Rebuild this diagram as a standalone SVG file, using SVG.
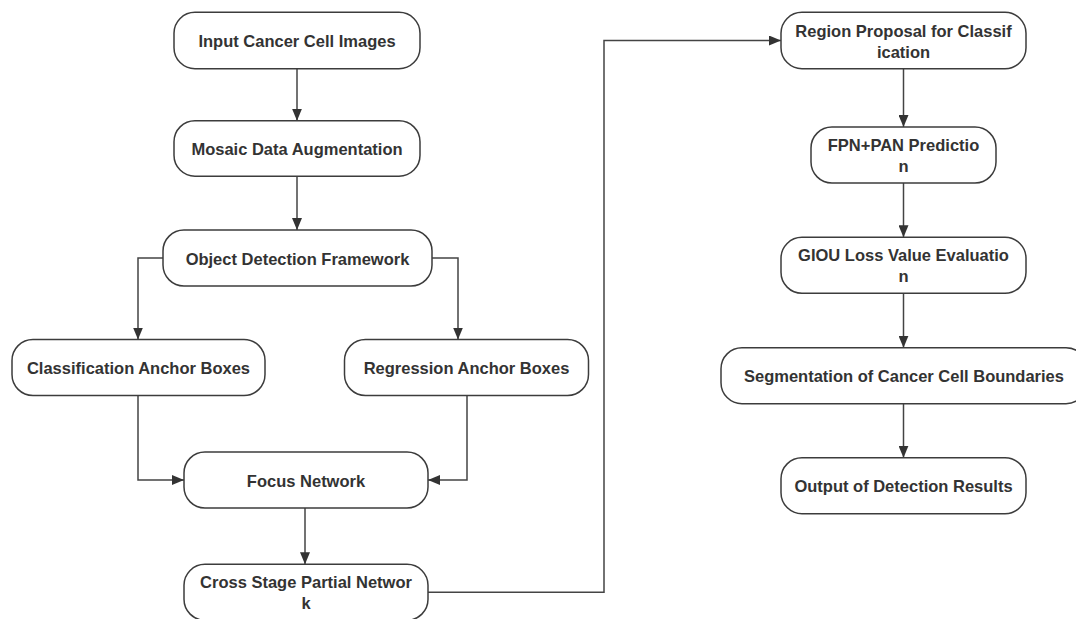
<svg xmlns="http://www.w3.org/2000/svg" width="1076" height="619" viewBox="0 0 1076 619">
<style>
.node rect{fill:#ffffff;stroke:#3c3c3c;stroke-width:1.5}
.node text{font-family:"Liberation Sans",Arial,sans-serif;font-weight:bold;font-size:16.5px;fill:#333333;text-anchor:middle}
.conn path{fill:none;stroke:#444444;stroke-width:1.5}
</style>
<defs>
<marker id="arr" viewBox="0 0 12 10" refX="12" refY="5" markerWidth="12" markerHeight="10" markerUnits="userSpaceOnUse" orient="auto">
<path d="M0,0 L12,5 L0,10 Z" fill="#333333"/>
</marker>
</defs>
<rect width="1076" height="619" fill="#ffffff"/>
<g id="connectors" class="conn">
<path d="M297 68.7 V120.7" marker-end="url(#arr)"/>
<path d="M297 176.2 V230" marker-end="url(#arr)"/>
<path d="M163 258 H138 V339.5" marker-end="url(#arr)"/>
<path d="M432 258 H458 V339.5" marker-end="url(#arr)"/>
<path d="M138 395.5 V480 H184" marker-end="url(#arr)"/>
<path d="M467 395.5 V480 H428" marker-end="url(#arr)"/>
<path d="M305 508 V564.3" marker-end="url(#arr)"/>
<path d="M428 592.3 H604 V40.5 H781" marker-end="url(#arr)"/>
<path d="M903.5 68.7 V127" marker-end="url(#arr)"/>
<path d="M903.5 183 V237.3" marker-end="url(#arr)"/>
<path d="M903.5 293.3 V347.7" marker-end="url(#arr)"/>
<path d="M903.5 403.7 V457.7" marker-end="url(#arr)"/>
</g>
<g id="n-input" class="node"><rect x="174" y="12.3" width="246" height="56.4" rx="21"/><text x="297" y="47">Input Cancer Cell Images</text></g>
<g id="n-mosaic" class="node"><rect x="174" y="120.7" width="246" height="55.5" rx="21"/><text x="297" y="155">Mosaic Data Augmentation</text></g>
<g id="n-objdet" class="node"><rect x="163" y="230" width="269" height="56" rx="21"/><text x="297.5" y="264.5">Object Detection Framework</text></g>
<g id="n-class" class="node"><rect x="12" y="339.5" width="253" height="56" rx="21"/><text x="138.5" y="374">Classification Anchor Boxes</text></g>
<g id="n-regr" class="node"><rect x="344.5" y="339.5" width="244" height="56" rx="21"/><text x="466.5" y="374">Regression Anchor Boxes</text></g>
<g id="n-focus" class="node"><rect x="184" y="452" width="244" height="56" rx="21"/><text x="306" y="486.5">Focus Network</text></g>
<g id="n-csp" class="node"><rect x="184" y="564.3" width="244" height="56" rx="21"/><text x="306" y="588">Cross Stage Partial Networ</text><text x="306" y="609">k</text></g>
<g id="n-region" class="node"><rect x="781" y="12.3" width="245" height="56.4" rx="21"/><text x="903.5" y="36.5">Region Proposal for Classif</text><text x="903.5" y="57.5">ication</text></g>
<g id="n-fpn" class="node"><rect x="811" y="127" width="185" height="56" rx="21"/><text x="903.5" y="151">FPN+PAN Predictio</text><text x="903.5" y="172">n</text></g>
<g id="n-giou" class="node"><rect x="781" y="237.3" width="245" height="56" rx="21"/><text x="903.5" y="261.3">GIOU Loss Value Evaluatio</text><text x="903.5" y="282.3">n</text></g>
<g id="n-seg" class="node"><rect x="721" y="347.7" width="366" height="56" rx="21"/><text x="904" y="382.2">Segmentation of Cancer Cell Boundaries</text></g>
<g id="n-output" class="node"><rect x="781" y="457.7" width="245" height="56" rx="21"/><text x="903.5" y="492.2">Output of Detection Results</text></g>
</svg>
